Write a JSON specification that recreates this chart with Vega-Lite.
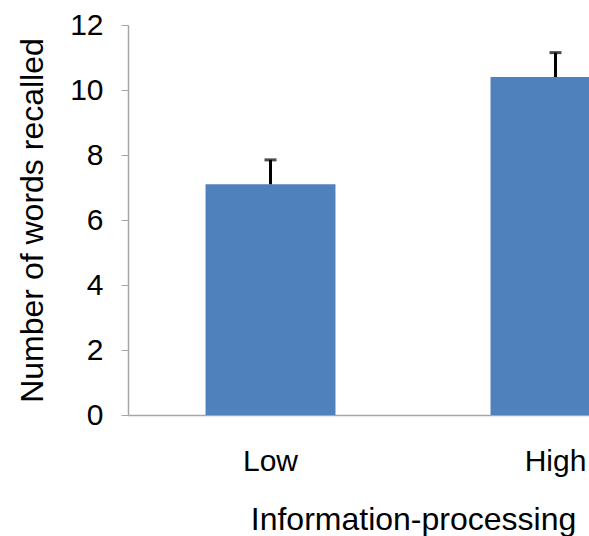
{
  "$schema": "https://vega.github.io/schema/vega-lite/v6.json",
  "autosize": {"type": "none"},
  "width": 461,
  "height": 390,
  "padding": {"left": 128, "top": 25, "right": 0, "bottom": 121},
  "background": "white",
  "config": {
    "view": {"stroke": null},
    "font": "Liberation Sans",
    "axis": {"grid": false, "domainColor": "#a6a6a6", "tickColor": "#a6a6a6", "labelColor": "black", "titleColor": "black", "labelFont": "Liberation Sans", "titleFont": "Liberation Sans", "titleFontWeight": "normal"}
  },
  "data": {"values": [
    {"level": "Low", "words": 7.1, "upper": 7.85},
    {"level": "High", "words": 10.4, "upper": 11.15}
  ]},
  "encoding": {
    "x": {"field": "level", "type": "nominal", "sort": ["Low", "High"],
      "scale": {"range": [0, 570], "paddingInner": 0.544, "paddingOuter": 0.272},
      "axis": {"title": "Information-processing", "labelAngle": 0, "ticks": false, "labelFontSize": 30, "labelPadding": 31, "titleFontSize": 32, "titlePadding": 28, "domainWidth": 1.5}}
  },
  "layer": [
    {
      "mark": {"type": "bar", "color": "#4f81bd", "clip": true},
      "encoding": {
        "y": {"field": "words", "type": "quantitative",
          "scale": {"domain": [0, 12]},
          "axis": {"title": "Number of words recalled", "values": [0, 2, 4, 6, 8, 10, 12], "tickSize": 7, "labelFontSize": 30, "labelPadding": 18, "titleFontSize": 32, "titlePadding": 20, "domainWidth": 1.5}}
      }
    },
    {
      "mark": {"type": "rule", "color": "black", "strokeWidth": 3, "clip": true},
      "encoding": {
        "y": {"field": "words", "type": "quantitative"},
        "y2": {"field": "upper"}
      }
    },
    {
      "mark": {"type": "tick", "color": "black", "thickness": 3, "size": 12, "clip": true},
      "encoding": {
        "y": {"field": "upper", "type": "quantitative"}
      }
    }
  ]
}
